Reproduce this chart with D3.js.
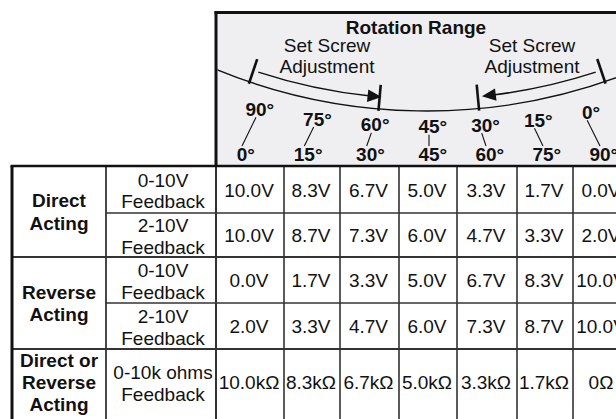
<!DOCTYPE html>
<html>
<head>
<meta charset="utf-8">
<script src="https://cdn.jsdelivr.net/npm/d3@7"></script>
<style>
  html, body { margin: 0; padding: 0; background: #fff; overflow: hidden; }
  svg { display: block; font-family: "Liberation Sans", Arial, sans-serif; }
</style>
</head>
<body>
<svg width="616" height="419"></svg>
<script>
// ---- data ----
const rotation = [0, 15, 30, 45, 60, 75, 90];
const title = "Rotation Range";
const adjustLabel = ["Set Screw", "Adjustment"];
const groupLabels = [["Direct", "Acting"], ["Reverse", "Acting"], ["Direct or", "Reverse", "Acting"]];
const groupRows = [[0, 2], [2, 4], [4, 5]];
const feedbackLabels = [["0-10V", "Feedback"], ["2-10V", "Feedback"], ["0-10V", "Feedback"], ["2-10V", "Feedback"], ["0-10k ohms", "Feedback"]];
const direct010 = [10.0, 8.3, 6.7, 5.0, 3.3, 1.7, 0.0];
const direct210 = [10.0, 8.7, 7.3, 6.0, 4.7, 3.3, 2.0];
const reverse010 = [0.0, 1.7, 3.3, 5.0, 6.7, 8.3, 10.0];
const reverse210 = [2.0, 3.3, 4.7, 6.0, 7.3, 8.7, 10.0];
const ohms = [10.0, 8.3, 6.7, 5.0, 3.3, 1.7, 0];

const fmtV = d => d3.format('.1f')(d) + 'V';
const fmtR = d => d === 0 ? '0\u03A9' : d3.format('.1f')(d) + 'k\u03A9';
const cells = [direct010, direct210, reverse010, reverse210].map(a => a.map(fmtV)).concat([ohms.map(fmtR)]);

// ---- layout ----
const svg = d3.select('svg');
const fs = 19;
const ink = '#111';
const grid = '#333';

const x = d3.scaleLinear().domain(d3.range(8)).range([216, 284, 340, 399, 457, 517, 573, 631]);
const y = d3.scaleLinear().domain(d3.range(6)).range([166, 213, 257, 303, 349, 415]);
const tableLeft = 12, labelRight = 106, bottom = 440;
const headTop = 12.5;

// header box
svg.append('rect')
  .attr('x', x(0)).attr('y', headTop)
  .attr('width', 616 - x(0)).attr('height', y(0) - headTop)
  .attr('fill', '#efeff1');

// ---- table grid ----
const g = svg.append('g').attr('stroke', grid).attr('fill', 'none');

// sub-row lines (inside groups) start at the feedback column
[1, 3].forEach(i => {
  g.append('line').attr('x1', labelRight).attr('x2', 630).attr('y1', y(i)).attr('y2', y(i)).attr('stroke-width', 1.6);
});
// group lines
[2, 4].forEach(i => {
  g.append('line').attr('x1', tableLeft).attr('x2', 630).attr('y1', y(i)).attr('y2', y(i)).attr('stroke-width', 1.8);
});
// value column lines
d3.range(1, 7).forEach(i => {
  g.append('line').attr('x1', x(i)).attr('x2', x(i)).attr('y1', y(0)).attr('y2', bottom).attr('stroke-width', 1.6);
});
g.append('line').attr('x1', labelRight).attr('x2', labelRight).attr('y1', y(0)).attr('y2', bottom).attr('stroke-width', 1.8);
g.append('line').attr('x1', x(0)).attr('x2', x(0)).attr('y1', y(0)).attr('y2', bottom).attr('stroke-width', 2);

// heavy borders
const heavy = svg.append('g').attr('stroke', ink).attr('stroke-width', 3);
heavy.append('line').attr('x1', tableLeft - 1.5).attr('x2', 630).attr('y1', y(0)).attr('y2', y(0)).attr('stroke-width', 2.6);
heavy.append('line').attr('x1', tableLeft).attr('x2', tableLeft).attr('y1', y(0)).attr('y2', bottom);
heavy.append('line').attr('x1', x(0) - 1.5).attr('x2', 630).attr('y1', headTop).attr('y2', headTop);
heavy.append('line').attr('x1', x(0)).attr('x2', x(0)).attr('y1', headTop - 1.5).attr('y2', y(0));

// ---- table text ----
const txt = svg.append('g').attr('fill', ink).attr('font-size', fs).attr('text-anchor', 'middle');

// group labels (bold)
groupLabels.forEach((lines, gi) => {
  const cy = (y(groupRows[gi][0]) + y(groupRows[gi][1])) / 2;
  const lh = 22.3;
  txt.selectAll(null).data(lines).enter().append('text')
    .attr('x', (tableLeft + labelRight) / 2)
    .attr('y', (d, i) => cy + 7 - (lines.length - 1) * lh / 2 + i * lh)
    .attr('font-weight', 'bold')
    .text(d => d);
});

// feedback labels
feedbackLabels.forEach((lines, ri) => {
  const cy = (y(ri) + y(ri + 1)) / 2;
  txt.selectAll(null).data(lines).enter().append('text')
    .attr('x', (labelRight + x(0)) / 2 + 2)
    .attr('y', (d, i) => cy - 3 + i * 21.5)
    .text(d => d);
});

// values
cells.forEach((row, ri) => {
  const cy = (y(ri) + y(ri + 1)) / 2;
  txt.selectAll(null).data(row).enter().append('text')
    .attr('x', (d, i) => (x(i) + x(i + 1)) / 2 - 1)
    .attr('y', cy + 7)
    .text(d => d);
});

// ---- rotation gauge ----
svg.append('clipPath').attr('id', 'headClip')
  .append('rect').attr('x', x(0) + 1.5).attr('y', headTop + 1.5)
  .attr('width', 616 - x(0)).attr('height', y(0) - headTop - 3);

const gauge = svg.append('g').attr('clip-path', 'url(#headClip)');
const cx = 427, cyc = -444, R = 555;
const rad = d => d * Math.PI / 180;
const polar = (r, deg) => [cx + r * Math.sin(rad(deg)), cyc + r * Math.cos(rad(deg))];
const ang = deg => Math.PI / 2 - rad(deg);

// main arc
const arcPath = d3.path();
arcPath.arc(cx, cyc, R, ang(-24), ang(22), true);
gauge.append('path').attr('d', arcPath.toString())
  .attr('fill', 'none').attr('stroke', ink).attr('stroke-width', 1.4);

// set screw ticks
const tickAngles = [-18.65, -5.0, 5.37, 18.7];
gauge.selectAll('line.tick').data(tickAngles).enter().append('line')
  .attr('class', 'tick')
  .attr('x1', d => polar(R + 2, d)[0]).attr('y1', d => polar(R + 2, d)[1])
  .attr('x2', d => polar(R - 24, d)[0]).attr('y2', d => polar(R - 24, d)[1])
  .attr('stroke', ink).attr('stroke-width', 2.6);

// adjustment arrows
const arrows = [{ from: -18.1, to: -4.8 }, { from: 18.1, to: 5.8 }];
const ra = R - 12, headLen = 14, headHalf = 6.2;
arrows.forEach(a => {
  const dir = a.to > a.from ? 1 : -1;
  const baseDeg = a.to - dir * (headLen / ra) * 180 / Math.PI;
  const p = d3.path();
  p.arc(cx, cyc, ra, ang(a.from), ang(baseDeg + dir * 0.3), dir > 0);
  gauge.append('path').attr('d', p.toString())
    .attr('fill', 'none').attr('stroke', ink).attr('stroke-width', 1.5);
  const tip = polar(ra, a.to);
  const b1 = polar(ra - headHalf, baseDeg);
  const b2 = polar(ra + headHalf, baseDeg);
  gauge.append('path').attr('d', 'M' + tip + 'L' + b1 + 'L' + b2 + 'Z').attr('fill', ink);
});

// header texts
const head = gauge.append('g').attr('fill', ink).attr('font-size', fs).attr('text-anchor', 'middle');
head.append('text').attr('x', 416).attr('y', 33.5).attr('font-weight', 'bold').text(title);
[327, 532].forEach(px => {
  head.selectAll(null).data(adjustLabel).enter().append('text')
    .attr('x', px).attr('y', (d, i) => 52 + i * 21)
    .text(d => d);
});

// degree labels
const deg = d3.scaleLinear().domain([0, 45, 90]).range([242, 429, 600]);
const mid = deg(45);
const degOff = 0.2 * fs;
const yBottom = 161;
const topX = d => deg(d) - (deg(d) - mid) * 0.075;
const topY = d => 133.3 - 5e-4 * Math.pow(deg(d) - mid, 2);

const degG = gauge.append('g');
degG.selectAll('line.lead').data(rotation).enter().append('line')
  .attr('class', 'lead')
  .attr('x1', d => topX(d)).attr('y1', d => topY(d) + 1.5)
  .attr('x2', d => deg(d)).attr('y2', yBottom - 15)
  .attr('stroke', ink).attr('stroke-width', 1.1);

degG.selectAll('text.top').data(rotation).enter().append('text')
  .attr('class', 'top')
  .attr('x', d => topX(d) + degOff).attr('y', d => topY(d))
  .attr('text-anchor', 'middle').attr('font-size', fs).attr('font-weight', 'bold').attr('fill', ink)
  .text(d => (90 - d) + '\u00B0');

degG.selectAll('text.bot').data(rotation).enter().append('text')
  .attr('class', 'bot')
  .attr('x', d => deg(d) + degOff).attr('y', yBottom)
  .attr('text-anchor', 'middle').attr('font-size', fs).attr('font-weight', 'bold').attr('fill', ink)
  .text(d => d + '\u00B0');
</script>
</body>
</html>
